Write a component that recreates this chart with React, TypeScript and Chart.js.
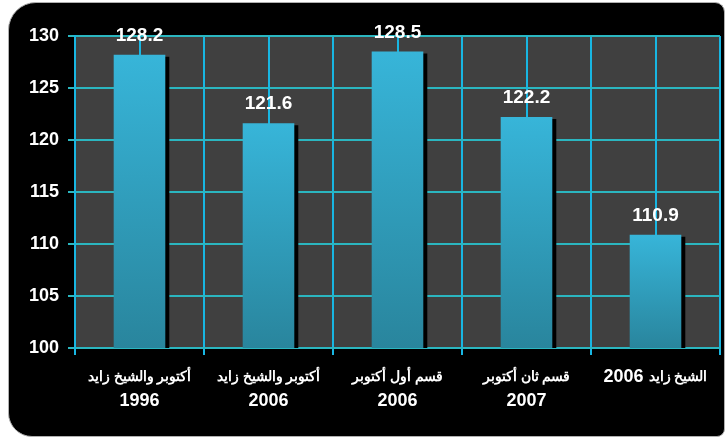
import React, { useEffect, useRef } from "react";
import { Chart, registerables } from "chart.js";

Chart.register(...registerables);

const areaNames = [
  "أكتوبر والشيخ زايد",
  "أكتوبر والشيخ زايد",
  "قسم أول أكتوبر",
  "قسم ثان أكتوبر",
  "الشيخ زايد",
];
const years = ["1996", "2006", "2006", "2007", "2006"];
const yearInline = [false, false, false, false, true];
const values = [128.2, 121.6, 128.5, 122.2, 110.9];
const yMin = 100;
const yMax = 130;
const yStep = 5;

const HLINE = "#2BB6C0";
const VLINE = "#18B6E2";
const PLOT_BG = "#404040";
const BAR_TOP = "#37B5D9";
const BAR_BOTTOM = "#29859D";
const FONT = "Arial, 'Liberation Sans', Helvetica, sans-serif";
const ARABIC_FONT = `bold 14px ${FONT}`;
const YEAR_FONT = `bold 18px ${FONT}`;
const INLINE_YEAR_FONT = `bold 18px ${FONT}`;
const VALUE_FONT = `bold 19px ${FONT}`;

const customPlugin = {
  id: "customDraw",
  beforeDraw(chart: any) {
    const { ctx, chartArea: a } = chart;
    ctx.save();
    ctx.fillStyle = PLOT_BG;
    ctx.fillRect(a.left, a.top, a.right - a.left, a.bottom - a.top);
    ctx.restore();
  },
  beforeDatasetsDraw(chart: any) {
    const { ctx, chartArea: a, scales } = chart;
    ctx.save();
    ctx.strokeStyle = VLINE;
    ctx.lineWidth = 2;
    areaNames.forEach((_, i) => {
      const x = Math.round(scales.x.getPixelForValue(i));
      ctx.beginPath();
      ctx.moveTo(x, a.top);
      ctx.lineTo(x, a.bottom);
      ctx.stroke();
    });
    ctx.restore();
    ctx.save();
    ctx.shadowColor = "#000000";
    ctx.shadowOffsetX = 4;
    ctx.shadowOffsetY = 2;
    ctx.shadowBlur = 0;
  },
  afterDatasetsDraw(chart: any) {
    const { ctx } = chart;
    ctx.restore();
    const meta = chart.getDatasetMeta(0);
    ctx.save();
    ctx.fillStyle = "#ffffff";
    ctx.font = VALUE_FONT;
    ctx.textAlign = "center";
    ctx.textBaseline = "alphabetic";
    meta.data.forEach((bar: any, i: number) => {
      ctx.fillText(values[i].toFixed(1), bar.x, bar.y - 14);
    });
    ctx.restore();
  },
  afterDraw(chart: any) {
    const { ctx, chartArea: a, scales } = chart;
    ctx.save();
    ctx.fillStyle = "#ffffff";
    ctx.textBaseline = "middle";
    areaNames.forEach((name, i) => {
      const cx = scales.x.getPixelForValue(i);
      if (yearInline[i]) {
        ctx.font = ARABIC_FONT;
        const wN = ctx.measureText(name).width;
        ctx.font = INLINE_YEAR_FONT;
        const wY = ctx.measureText(years[i]).width;
        const gap = 5;
        const total = wN + gap + wY;
        const left = cx - total / 2;
        ctx.direction = "ltr";
        ctx.textAlign = "left";
        ctx.fillText(years[i], left, a.bottom + 29);
        ctx.font = ARABIC_FONT;
        ctx.direction = "rtl";
        ctx.textAlign = "right";
        ctx.fillText(name, left + total, a.bottom + 29);
      } else {
        ctx.font = ARABIC_FONT;
        ctx.direction = "rtl";
        ctx.textAlign = "center";
        ctx.fillText(name, cx, a.bottom + 29);
        ctx.font = YEAR_FONT;
        ctx.direction = "ltr";
        ctx.fillText(years[i], cx, a.bottom + 53);
      }
    });
    ctx.restore();
  },
};

export default function App() {
  const canvasRef = useRef<HTMLCanvasElement | null>(null);

  useEffect(() => {
    const canvas = canvasRef.current;
    if (!canvas) return;
    const chart = new Chart(canvas, {
      type: "bar",
      data: {
        labels: areaNames,
        datasets: [
          {
            data: values,
            backgroundColor: (c: any) => {
              const ch = c.chart;
              const ys = ch.scales && ch.scales.y;
              if (!ys || c.dataIndex == null) return BAR_TOP;
              const top = ys.getPixelForValue(values[c.dataIndex]);
              const bottom = ys.getPixelForValue(yMin);
              if (!isFinite(top) || !isFinite(bottom) || top === bottom) return BAR_TOP;
              const g = ch.ctx.createLinearGradient(0, top, 0, bottom);
              g.addColorStop(0, BAR_TOP);
              g.addColorStop(1, BAR_BOTTOM);
              return g;
            },
            borderWidth: 0,
            barPercentage: 0.4,
            categoryPercentage: 1,
          },
        ],
      },
      options: {
        responsive: false,
        animation: false,
        devicePixelRatio: 1,
        layout: { padding: { top: 36, right: 6, left: 0, bottom: 0 } },
        plugins: {
          legend: { display: false },
          tooltip: { enabled: false },
        },
        scales: {
          x: {
            afterFit: (s: any) => {
              s.height = 93;
            },
            grid: {
              color: VLINE,
              lineWidth: 2,
              tickLength: 7,
              offset: true,
              drawTicks: true,
            },
            border: { color: HLINE, width: 2 },
            ticks: { display: false },
          },
          y: {
            min: yMin,
            max: yMax,
            afterFit: (s: any) => {
              s.width = 75;
            },
            grid: { color: HLINE, lineWidth: 2, tickLength: 7 },
            border: { color: VLINE, width: 2 },
            ticks: {
              stepSize: yStep,
              color: "#ffffff",
              padding: 9,
              font: { family: FONT, size: 18, weight: "bold" },
            },
          },
        },
      },
      plugins: [customPlugin],
    } as any);
    return () => chart.destroy();
  }, []);

  return (
    <div
      style={{
        position: "absolute",
        left: 0,
        top: 0,
        width: 726,
        height: 441,
        background: "#ffffff",
        overflow: "hidden",
      }}
    >
      <div
        style={{
          position: "absolute",
          left: 8,
          top: 2,
          width: 717,
          height: 435,
          boxSizing: "border-box",
          background: "#000000",
          border: "1px solid #b0b0b0",
          borderRadius: "28px 10px 8px 24px",
        }}
      />
      <canvas
        ref={canvasRef}
        width={726}
        height={441}
        style={{ position: "absolute", left: 0, top: 0, width: 726, height: 441 }}
      />
    </div>
  );
}
